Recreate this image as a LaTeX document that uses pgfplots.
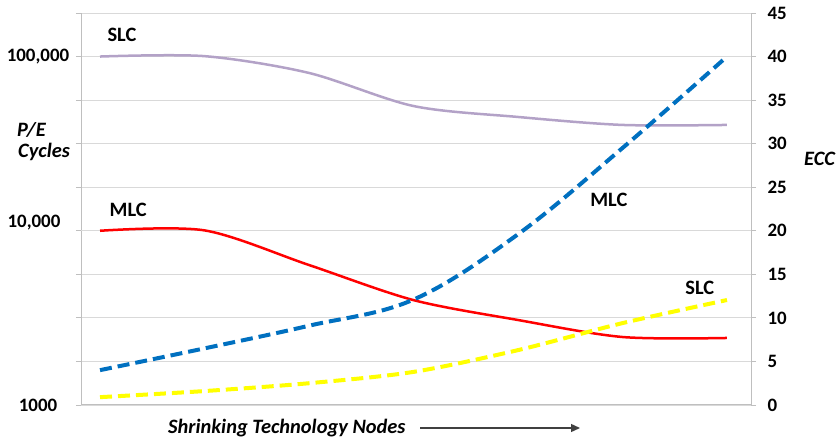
\documentclass[border=0pt]{standalone}
\usepackage{fontspec}
\setmainfont{Carlito}
\usepackage{pgfplots}
\pgfplotsset{compat=1.18}
\usetikzlibrary{arrows.meta}

\definecolor{slcpe}{RGB}{179,162,199}
\definecolor{mlcpe}{RGB}{255,0,0}
\definecolor{mlcecc}{RGB}{0,112,192}
\definecolor{slcecc}{RGB}{255,255,0}
\definecolor{gridc}{RGB}{217,217,217}
\definecolor{axisc}{RGB}{191,191,191}

\newcommand{\tkl}{\fontsize{19}{21}\selectfont\bfseries}
\newcommand{\lbl}{\fontsize{20.5}{23}\selectfont\bfseries}

% x: technology node index, 0 = oldest
\pgfplotstableread{
x  slc     mlc
0  100000  10000
1  100500  10050
2  80500   6360
3  52000   4000
4  45000   3075
5  40500   2456
6  40500   2425
}\pecycles

\pgfplotstableread{
x  slc   mlc
0  0.9   4.0
1  1.6   6.5
2  2.5   9.1
3  3.8   12.1
4  6.3   19.6
5  9.4   29.5
6  12.05 40.0
}\ecc

\pgfplotsset{
  twin/.style={
    at={(81bp,36bp)}, anchor=south west,
    scale only axis, width=670bp, height=392bp,
    xmin=-0.182, xmax=6.23,
    axis line style={axisc, line width=1bp, -},
    tick align=outside, major tick length=5bp,
    tick style={axisc, line width=0.8bp},
    yticklabel style={font=\tkl, text=black},
    clip=false,
  },
}

\begin{document}
\begin{tikzpicture}
\useasboundingbox (0,0) rectangle (838bp,441bp);

\begin{axis}[
  twin,
  ymode=log, ymin=1000, ymax=177827.9,
  axis x line*=bottom, axis y line*=left,
  xtick=\empty,
  ytick={1000,1778.28,3162.28,5623.41,17782.8,31622.8,56234.1,100000,177827.9},
  yticklabels={1000,,,,,,,{100{,}000},},
  extra y ticks={10000},
  extra y tick labels={{10{,}000}},
  extra y tick style={grid=major, yticklabel style={yshift=8bp, xshift=-4bp}},
  yticklabel style={anchor=center, xshift=-38bp},
  ymajorgrids, major grid style={gridc, line width=0.8bp},
]
\addplot[slcpe, line width=2.5bp, smooth] table[x=x, y=slc] {\pecycles};
\addplot[mlcpe, line width=2.5bp, smooth] table[x=x, y=mlc] {\pecycles};
\end{axis}

\begin{axis}[
  twin,
  ymin=0, ymax=45,
  axis x line=none, axis y line*=right,
  ytick={0,5,...,45},
  /pgf/number format/assume math mode=true,
  yticklabel style={xshift=8bp},
]
\addplot[mlcecc, line width=4bp, smooth, tension=0.6, dash pattern=on 12bp off 6bp] table[x=x, y=mlc] {\ecc};
\addplot[slcecc, line width=4bp, smooth, dash pattern=on 12bp off 6bp] table[x=x, y=slc] {\ecc};
\node[font=\lbl] at (axis cs:0.21,42.5) {SLC};
\node[font=\lbl] at (axis cs:0.27,22.4) {MLC};
\node[font=\lbl] at (axis cs:4.87,23.5) {MLC};
\node[font=\lbl] at (axis cs:5.74,13.5) {SLC};
\end{axis}

\node[anchor=base west, font=\lbl\itshape, inner sep=0pt] at (17bp,304bp) {P/E};
\node[anchor=base west, font=\lbl\itshape, inner sep=0pt] at (18bp,283bp) {Cycles};
\node[anchor=west, font=\lbl\itshape, inner sep=0pt] at (804bp,282bp) {ECC};
\node[anchor=base west, font=\lbl\itshape, inner sep=0pt] at (168bp,8bp) {Shrinking Technology Nodes};
\draw[black!75, line width=1.4bp, -{Triangle[length=9bp, width=8bp]}] (420bp,13bp) -- (580bp,13bp);
\end{tikzpicture}
\end{document}
